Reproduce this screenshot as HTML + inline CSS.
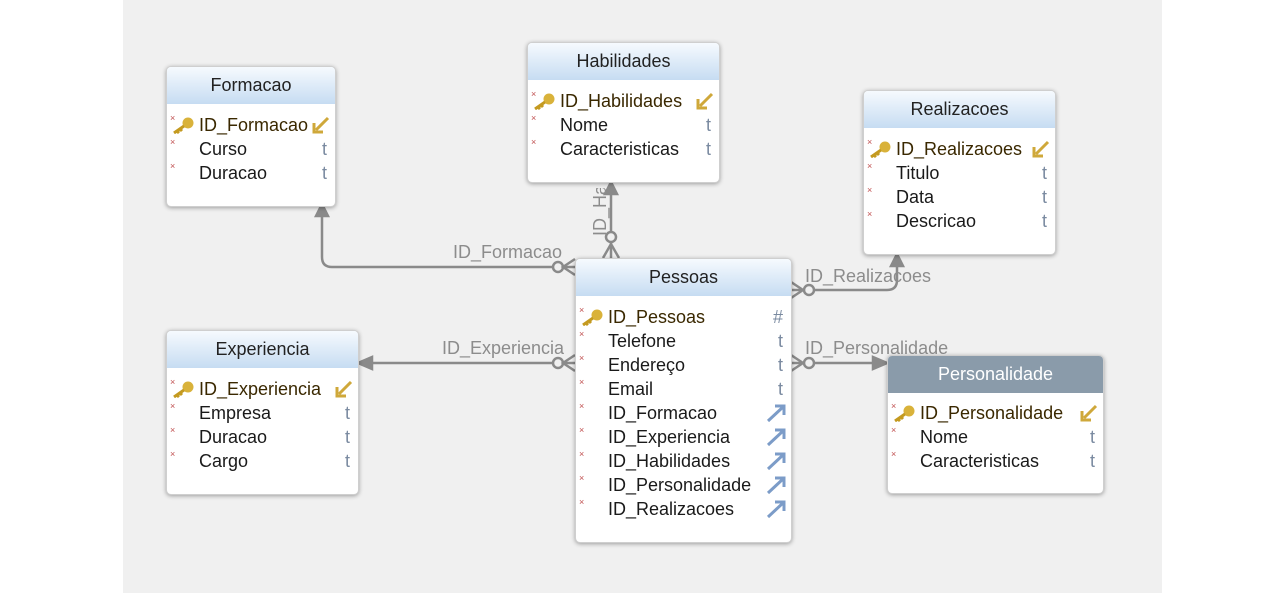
<!DOCTYPE html>
<html><head><meta charset="utf-8"><style>
body{margin:0;width:1284px;height:593px;background:#fff;position:relative;overflow:hidden;font-family:"Liberation Sans",sans-serif}
#bg{position:absolute;left:123px;top:0;width:1039px;height:593px;background:#f0f0f0}
.t{position:absolute;background:#fff;border:1px solid #cfcfcf;border-radius:5px;box-shadow:0 1px 4px rgba(0,0,0,.35);overflow:hidden}
.h{height:37px;background:linear-gradient(#f6fafe,#c6dcf2);text-align:center;line-height:37px;font-size:18px;color:#222}
.h.d{background:#8a9baa;color:#fff}
.r{position:absolute;left:0;right:0;height:24px;line-height:24px;font-size:18px;color:#1a1a1a}
.n{position:absolute;left:32px}
.k .n{color:#3a2800}
.ty{position:absolute;right:8px;color:#7a8aa0}
.s{position:absolute;left:3px;top:-7px;color:#c05050;font-size:9px}
.key{position:absolute;left:4px;top:3px}
.ic{position:absolute;right:4px;top:2px}
svg.c{position:absolute;left:0;top:0}
.lb{position:absolute;font-size:18px;color:#8c8c8c}
</style></head><body>
<div id="bg"></div>
<svg class="c" width="1284" height="593" fill="none" stroke="#8a8a8a" stroke-width="2.5">
<path d="M575 267 H332 Q322 267 322 257 V210"/><path d="M316 216 L322 204 L328 216Z" fill="#8a8a8a"/>
<circle cx="558" cy="267" r="5" fill="#f0f0f0"/><path d="M575 259 L563 267 L575 275"/>
<path d="M611 258 V186"/><path d="M605 194 L611 182 L617 194Z" fill="#8a8a8a"/>
<circle cx="611" cy="237" r="5" fill="#f0f0f0"/><path d="M603 258 L611 244 L619 258"/>
<path d="M791 290 H887 Q897 290 897 280 V258"/><path d="M891 266 L897 254 L903 266Z" fill="#8a8a8a"/>
<circle cx="809" cy="290" r="5" fill="#f0f0f0"/><path d="M791 282 L803 290 L791 298"/>
<path d="M575 363 H362"/><path d="M372 357 L358 363 L372 369Z" fill="#8a8a8a"/>
<circle cx="558" cy="363" r="5" fill="#f0f0f0"/><path d="M575 355 L563 363 L575 371"/>
<path d="M791 363 H883"/><path d="M873 357 L887 363 L873 369Z" fill="#8a8a8a"/>
<circle cx="809" cy="363" r="5" fill="#f0f0f0"/><path d="M791 355 L803 363 L791 371"/>
</svg>
<div class="lb" style="left:453px;top:242px">ID_Formacao</div>
<div class="lb" style="left:805px;top:266px">ID_Realizacoes</div>
<div class="lb" style="left:442px;top:338px">ID_Experiencia</div>
<div class="lb" style="left:805px;top:338px">ID_Personalidade</div>
<div class="lb" style="left:588px;top:188px;width:30px;height:48px;overflow:hidden"><div style="transform:rotate(-90deg);transform-origin:0 0;position:absolute;left:2px;top:48px;white-space:nowrap">ID_Hab</div></div>

<div class="t" style="left:166px;top:66px;width:168px;height:139px">
<div class="h">Formacao</div>
<div class="r k" style="top:46px"><span class="s">×</span><svg class="key" width="24" height="18"><circle cx="17" cy="7" r="5.5" fill="#d9b23a"/><path d="M13 10 L3 17 M6 15 L8 17 M9 13 L11 15" stroke="#c49a20" stroke-width="3"/></svg><span class="n">ID_Formacao</span><svg class="ic" width="20" height="20"><path d="M17 3 L5 15 M3 8 V17 H12" stroke="#cfa83a" stroke-width="3" fill="none"/></svg></div>
<div class="r" style="top:70px"><span class="s">×</span><span class="n">Curso</span><span class="ty">t</span></div>
<div class="r" style="top:94px"><span class="s">×</span><span class="n">Duracao</span><span class="ty">t</span></div>
</div>

<div class="t" style="left:527px;top:42px;width:191px;height:139px">
<div class="h">Habilidades</div>
<div class="r k" style="top:46px"><span class="s">×</span><svg class="key" width="24" height="18"><circle cx="17" cy="7" r="5.5" fill="#d9b23a"/><path d="M13 10 L3 17 M6 15 L8 17 M9 13 L11 15" stroke="#c49a20" stroke-width="3"/></svg><span class="n">ID_Habilidades</span><svg class="ic" width="20" height="20"><path d="M17 3 L5 15 M3 8 V17 H12" stroke="#cfa83a" stroke-width="3" fill="none"/></svg></div>
<div class="r" style="top:70px"><span class="s">×</span><span class="n">Nome</span><span class="ty">t</span></div>
<div class="r" style="top:94px"><span class="s">×</span><span class="n">Caracteristicas</span><span class="ty">t</span></div>
</div>

<div class="t" style="left:863px;top:90px;width:191px;height:163px">
<div class="h">Realizacoes</div>
<div class="r k" style="top:46px"><span class="s">×</span><svg class="key" width="24" height="18"><circle cx="17" cy="7" r="5.5" fill="#d9b23a"/><path d="M13 10 L3 17 M6 15 L8 17 M9 13 L11 15" stroke="#c49a20" stroke-width="3"/></svg><span class="n">ID_Realizacoes</span><svg class="ic" width="20" height="20"><path d="M17 3 L5 15 M3 8 V17 H12" stroke="#cfa83a" stroke-width="3" fill="none"/></svg></div>
<div class="r" style="top:70px"><span class="s">×</span><span class="n">Titulo</span><span class="ty">t</span></div>
<div class="r" style="top:94px"><span class="s">×</span><span class="n">Data</span><span class="ty">t</span></div>
<div class="r" style="top:118px"><span class="s">×</span><span class="n">Descricao</span><span class="ty">t</span></div>
</div>

<div class="t" style="left:166px;top:330px;width:191px;height:163px">
<div class="h">Experiencia</div>
<div class="r k" style="top:46px"><span class="s">×</span><svg class="key" width="24" height="18"><circle cx="17" cy="7" r="5.5" fill="#d9b23a"/><path d="M13 10 L3 17 M6 15 L8 17 M9 13 L11 15" stroke="#c49a20" stroke-width="3"/></svg><span class="n">ID_Experiencia</span><svg class="ic" width="20" height="20"><path d="M17 3 L5 15 M3 8 V17 H12" stroke="#cfa83a" stroke-width="3" fill="none"/></svg></div>
<div class="r" style="top:70px"><span class="s">×</span><span class="n">Empresa</span><span class="ty">t</span></div>
<div class="r" style="top:94px"><span class="s">×</span><span class="n">Duracao</span><span class="ty">t</span></div>
<div class="r" style="top:118px"><span class="s">×</span><span class="n">Cargo</span><span class="ty">t</span></div>
</div>

<div class="t" style="left:887px;top:355px;width:215px;height:137px">
<div class="h d">Personalidade</div>
<div class="r k" style="top:45px"><span class="s">×</span><svg class="key" width="24" height="18"><circle cx="17" cy="7" r="5.5" fill="#d9b23a"/><path d="M13 10 L3 17 M6 15 L8 17 M9 13 L11 15" stroke="#c49a20" stroke-width="3"/></svg><span class="n">ID_Personalidade</span><svg class="ic" width="20" height="20"><path d="M17 3 L5 15 M3 8 V17 H12" stroke="#cfa83a" stroke-width="3" fill="none"/></svg></div>
<div class="r" style="top:69px"><span class="s">×</span><span class="n">Nome</span><span class="ty">t</span></div>
<div class="r" style="top:93px"><span class="s">×</span><span class="n">Caracteristicas</span><span class="ty">t</span></div>
</div>

<div class="t" style="left:575px;top:258px;width:215px;height:283px">
<div class="h">Pessoas</div>
<div class="r k" style="top:46px"><span class="s">×</span><svg class="key" width="24" height="18"><circle cx="17" cy="7" r="5.5" fill="#d9b23a"/><path d="M13 10 L3 17 M6 15 L8 17 M9 13 L11 15" stroke="#c49a20" stroke-width="3"/></svg><span class="n">ID_Pessoas</span><span class="ty">#</span></div>
<div class="r" style="top:70px"><span class="s">×</span><span class="n">Telefone</span><span class="ty">t</span></div>
<div class="r" style="top:94px"><span class="s">×</span><span class="n">Endereço</span><span class="ty">t</span></div>
<div class="r" style="top:118px"><span class="s">×</span><span class="n">Email</span><span class="ty">t</span></div>
<div class="r" style="top:142px"><span class="s">×</span><span class="n">ID_Formacao</span><svg class="ic" width="22" height="20"><path d="M3 18 L18 4 M10 3 H19 V12" stroke="#7c9cc8" stroke-width="3" fill="none"/></svg></div>
<div class="r" style="top:166px"><span class="s">×</span><span class="n">ID_Experiencia</span><svg class="ic" width="22" height="20"><path d="M3 18 L18 4 M10 3 H19 V12" stroke="#7c9cc8" stroke-width="3" fill="none"/></svg></div>
<div class="r" style="top:190px"><span class="s">×</span><span class="n">ID_Habilidades</span><svg class="ic" width="22" height="20"><path d="M3 18 L18 4 M10 3 H19 V12" stroke="#7c9cc8" stroke-width="3" fill="none"/></svg></div>
<div class="r" style="top:214px"><span class="s">×</span><span class="n">ID_Personalidade</span><svg class="ic" width="22" height="20"><path d="M3 18 L18 4 M10 3 H19 V12" stroke="#7c9cc8" stroke-width="3" fill="none"/></svg></div>
<div class="r" style="top:238px"><span class="s">×</span><span class="n">ID_Realizacoes</span><svg class="ic" width="22" height="20"><path d="M3 18 L18 4 M10 3 H19 V12" stroke="#7c9cc8" stroke-width="3" fill="none"/></svg></div>
</div>
</body></html>
